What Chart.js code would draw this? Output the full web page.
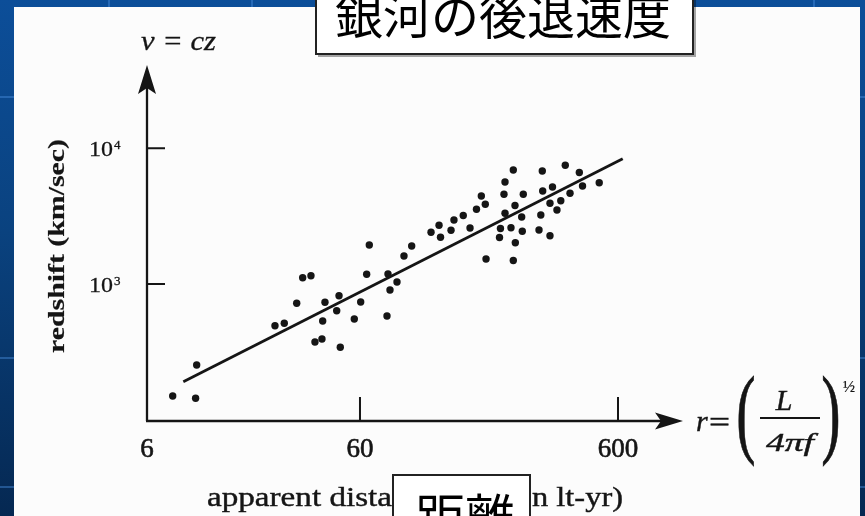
<!DOCTYPE html>
<html>
<head>
<meta charset="utf-8">
<script src="https://cdn.jsdelivr.net/npm/chart.js@4.4.1/dist/chart.umd.min.js"></script>
<style>
html,body{margin:0;padding:0;overflow:hidden;background:#0a3f80;}
canvas{display:block;}
</style>
</head>
<body>
<canvas id="c" width="865" height="516"></canvas>
<script>
// ---- data ----
const distance = [11.28, 13.84, 13.97, 28.1, 30.53, 34.11, 35.98, 38.74, 40.15, 42.74, 43.01, 43.9, 49.76, 48.74, 50.33, 57.03, 60.38, 63.7, 65.2, 77.03, 76.35, 78.42, 83.48, 88.85, 95.18, 113.1, 121.5, 123.1, 135.2, 138.8, 150.8, 160.2, 169.7, 177.2, 183.6, 184.8, 210.2, 208.4, 216.9, 218.9, 218.9, 230.9, 235.7, 235.7, 239.3, 240.0, 254.0, 255.4, 257.7, 296.5, 301.3, 305.3, 306.4, 327.0, 327.0, 334.4, 348.0, 360.1, 374.8, 391.0, 424.9, 437.2, 507.5];
const redshift = [149.5, 143.8, 253.0, 492.9, 513.4, 720.7, 1113, 1151, 373.7, 393.2, 533.8, 733.0, 820.1, 635.8, 341.6, 552.3, 736.8, 1179, 1939, 1185, 581.0, 903.0, 1034, 1608, 1905, 2404, 2708, 2209, 2487, 2962, 3197, 2586, 3553, 4452, 3873, 1528, 2564, 2201, 4581, 5645, 3319, 2599, 6920, 1490, 3788, 2015, 3117, 2446, 4581, 2500, 3225, 6803, 4846, 3933, 2266, 5185, 3511, 4111, 7508, 4660, 6632, 5274, 5578];
const fitDistance = [12.4, 625.8];
const fitRedshift = [190.5, 8381];
const xTickValues = [60, 600];
const xTickLabels = ['60', '600'];
const xOriginLabel = '6';
const yTickValues = [1000, 10000];
const yTickBase = ['10', '10'];
const yTickExp = ['3', '4'];
const xRange = [8.968, 1071.7];
const yRange = [97.8, 41110];
const titleText = '銀河の後退速度';
const distText = '距離';
const xTitleParts = ['apparent dista', 'nce (i', 'n lt-yr)'];
const yTitle = 'redshift (km/sec)';
const yTopLabel = 'v = cz';

const W = 865, H = 516;
const SERIF = '"Liberation Serif", "DejaVu Serif", serif';
const CJK = '"Noto Sans CJK JP", "Noto Sans CJK SC", sans-serif';
const INK = '#151515';

function inkText(ctx, txt, x, y, sw) {
  ctx.fillText(txt, x, y);
  if (sw) { ctx.lineWidth = sw; ctx.strokeText(txt, x, y); }
}
function fitText(ctx, txt, x, y, w, font, align, sw) {
  ctx.save();
  ctx.font = font;
  const m = ctx.measureText(txt).width;
  ctx.translate(x, y);
  ctx.scale(w / m, 1);
  ctx.textAlign = align || 'left';
  inkText(ctx, txt, 0, 0, sw === undefined ? 0.4 : sw);
  ctx.restore();
}

const bgPlugin = {
  id: 'bg',
  beforeDraw(chart) {
    const ctx = chart.ctx;
    ctx.save();
    const g = ctx.createLinearGradient(0, 0, 0, H);
    g.addColorStop(0, '#0c4e99');
    g.addColorStop(0.45, '#0a427f');
    g.addColorStop(1, '#052852');
    ctx.fillStyle = g;
    ctx.fillRect(0, 0, W, H);
    ctx.fillStyle = 'rgba(70,140,220,0.45)';
    ctx.fillRect(0, 96, W, 2);
    ctx.fillRect(0, 357, W, 2);
    ctx.fillRect(0, 486, W, 2);
    ctx.fillRect(108, 0, 2, 10);
    ctx.fillRect(251, 0, 2, 10);
    ctx.fillRect(813, 0, 2, 10);
    ctx.fillStyle = '#fcfcfc';
    ctx.fillRect(14, 7, 846, H - 7);
    ctx.restore();
  }
};

const decoPlugin = {
  id: 'deco',
  afterDraw(chart) {
    const ctx = chart.ctx;
    const xs = chart.scales.x, ys = chart.scales.y;
    const x0 = xs.getPixelForValue(xRange[0]);
    const xEnd = xs.getPixelForValue(xRange[1]);
    const y0 = ys.getPixelForValue(yRange[0]);
    const yEnd = ys.getPixelForValue(yRange[1]);
    ctx.save();
    ctx.strokeStyle = INK;
    ctx.fillStyle = INK;
    ctx.lineWidth = 2.3;
    ctx.beginPath();
    ctx.moveTo(x0, y0);
    ctx.lineTo(x0, yEnd + 22);
    ctx.moveTo(x0 - 1, y0);
    ctx.lineTo(xEnd - 22, y0);
    ctx.stroke();
    ctx.beginPath();
    ctx.moveTo(x0, yEnd);
    ctx.lineTo(x0 - 9, yEnd + 29);
    ctx.lineTo(x0, yEnd + 23);
    ctx.lineTo(x0 + 9, yEnd + 29);
    ctx.closePath();
    ctx.fill();
    ctx.beginPath();
    ctx.moveTo(xEnd, y0);
    ctx.lineTo(xEnd - 28, y0 - 8.5);
    ctx.lineTo(xEnd - 22, y0);
    ctx.lineTo(xEnd - 28, y0 + 8.5);
    ctx.closePath();
    ctx.fill();
    ctx.lineWidth = 2;
    ctx.beginPath();
    xTickValues.forEach(v => {
      const px = xs.getPixelForValue(v);
      ctx.moveTo(px, y0);
      ctx.lineTo(px, y0 - 24);
    });
    yTickValues.forEach(v => {
      const py = ys.getPixelForValue(v);
      ctx.moveTo(x0, py);
      ctx.lineTo(x0 + 18, py);
    });
    ctx.stroke();

    // x tick labels
    ctx.textAlign = 'center';
    ctx.textBaseline = 'alphabetic';
    ctx.font = '27px ' + SERIF;
    inkText(ctx, xOriginLabel, x0, 457, 0.6);
    xTickValues.forEach((v, i) => {
      inkText(ctx, xTickLabels[i], xs.getPixelForValue(v), 457, 0.6);
    });
    // y tick labels
    yTickValues.forEach((v, i) => {
      const py = ys.getPixelForValue(v);
      fitText(ctx, yTickBase[i], 89, py + 8, 24, '22px ' + SERIF, 'left', 0.3);
      ctx.font = '13px ' + SERIF;
      ctx.textAlign = 'left';
      inkText(ctx, yTickExp[i], 114, py + 1, 0.3);
    });
    // y top label
    fitText(ctx, yTopLabel, 141, 50, 75, 'italic 27px ' + SERIF, 'left', 0.3);
    // y title (rotated)
    ctx.save();
    ctx.translate(64, 246);
    ctx.rotate(-Math.PI / 2);
    fitText(ctx, yTitle, 0, 0, 214, 'bold 24px ' + SERIF, 'center', 0.2);
    ctx.restore();
    // x title (middle part lies under the box)
    fitText(ctx, xTitleParts[0], 207, 506, 185, '27px ' + SERIF, 'left', 0.4);
    fitText(ctx, xTitleParts[1], 462, 506, 74, '27px ' + SERIF, 'center', 0.4);
    fitText(ctx, xTitleParts[2], 532, 506, 91, '27px ' + SERIF, 'left', 0.4);

    // r = (L / 4 pi f)^(1/2)
    ctx.textAlign = 'left';
    ctx.font = 'italic 30px ' + SERIF;
    inkText(ctx, 'r', 696, 431, 0.4);
    fitText(ctx, '=', 709, 432, 21, '30px ' + SERIF, 'left', 0.5);
    ctx.save();
    ctx.translate(746, 445);
    ctx.scale(0.58, 1);
    ctx.font = '100px ' + SERIF;
    ctx.textAlign = 'center';
    inkText(ctx, '(', 0, 0, 0.8);
    ctx.restore();
    ctx.save();
    ctx.translate(831, 445);
    ctx.scale(0.58, 1);
    ctx.font = '100px ' + SERIF;
    ctx.textAlign = 'center';
    inkText(ctx, ')', 0, 0, 0.8);
    ctx.restore();
    ctx.font = 'italic 30px ' + SERIF;
    ctx.textAlign = 'center';
    inkText(ctx, 'L', 784, 410, 0.4);
    ctx.lineWidth = 2;
    ctx.beginPath();
    ctx.moveTo(760, 418);
    ctx.lineTo(820, 418);
    ctx.stroke();
    fitText(ctx, '4πf', 790, 451, 48, 'italic 25px ' + SERIF, 'center', 0.4);
    ctx.font = '16px ' + SERIF;
    ctx.textAlign = 'left';
    inkText(ctx, '½', 843, 392, 0.2);

    // title box
    ctx.fillStyle = '#ffffff';
    ctx.fillRect(316, -4, 377, 58);
    ctx.strokeStyle = '#222';
    ctx.lineWidth = 2;
    ctx.strokeRect(316, -4, 377, 58);
    ctx.strokeStyle = 'rgba(0,0,0,0.35)';
    ctx.beginPath();
    ctx.moveTo(695, -2); ctx.lineTo(695, 56); ctx.lineTo(318, 56);
    ctx.stroke();
    ctx.fillStyle = '#000';
    ctx.font = '48px ' + CJK;
    ctx.textAlign = 'center';
    ctx.fillText(titleText, 503, 34);

    // distance box
    ctx.fillStyle = '#ffffff';
    ctx.fillRect(393, 475, 137, 50);
    ctx.strokeStyle = '#222';
    ctx.lineWidth = 2;
    ctx.strokeRect(393, 475, 137, 50);
    ctx.fillStyle = '#000';
    ctx.font = '50px ' + CJK;
    ctx.textAlign = 'center';
    ctx.fillText(distText, 465, 536);
    ctx.restore();
  }
};

new Chart(document.getElementById('c'), {
  type: 'scatter',
  data: {
    datasets: [
      {
        label: 'galaxies',
        data: distance.map((d, i) => ({ x: d, y: redshift[i] })),
        pointRadius: 3.7,
        pointBackgroundColor: INK,
        pointBorderWidth: 0,
        showLine: false
      },
      {
        label: 'fit',
        data: fitDistance.map((d, i) => ({ x: d, y: fitRedshift[i] })),
        showLine: true,
        pointRadius: 0,
        borderColor: INK,
        borderWidth: 2.8,
        fill: false
      }
    ]
  },
  options: {
    responsive: false,
    animation: false,
    events: [],
    layout: { padding: { left: 147, right: 182, top: 65, bottom: 95 } },
    plugins: { legend: { display: false }, tooltip: { enabled: false } },
    scales: {
      x: { type: 'logarithmic', min: xRange[0], max: xRange[1], display: false },
      y: { type: 'logarithmic', min: yRange[0], max: yRange[1], display: false }
    }
  },
  plugins: [bgPlugin, decoPlugin]
});
</script>
</body>
</html>
